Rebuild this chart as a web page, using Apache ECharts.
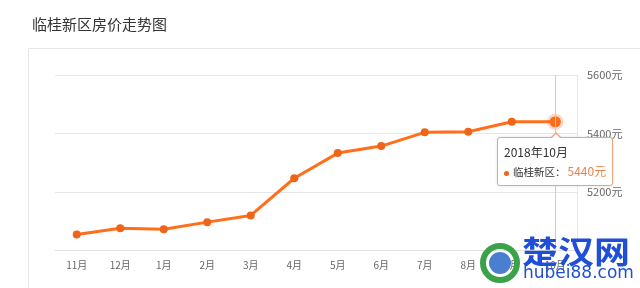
<!DOCTYPE html>
<html><head><meta charset="utf-8">
<script src="https://cdn.jsdelivr.net/npm/echarts@6/dist/echarts.min.js"></script>
<style>html,body{margin:0;padding:0;background:#fff}#c{width:640px;height:288px}</style>
</head><body><div id="c"></div>
<script>
const categories = ['11月','12月','1月','2月','3月','4月','5月','6月','7月','8月','9月','10月'];
const tooltipMonths = ['2017年11月','2017年12月','2018年1月','2018年2月','2018年3月','2018年4月','2018年5月','2018年6月','2018年7月','2018年8月','2018年9月','2018年10月'];
const prices = [5055, 5076, 5073, 5097, 5120, 5247, 5333, 5357, 5404, 5406, 5440, 5440];
const seriesName = '临桂新区';
const titleText = '临桂新区房价走势图';

const font = '"Noto Sans CJK SC", "Microsoft YaHei", sans-serif';
const lineColor = '#ef6418';
const chart = echarts.init(document.getElementById('c'), null, {renderer: 'canvas'});
chart.setOption({
  animation: false,
  backgroundColor: '#fff',
  title: {text: titleText, left: 27, top: 12, textStyle: {fontSize: 15, fontWeight: 'normal', color: '#333', fontFamily: font}},
  graphic: [
    {type: 'rect', shape: {x: 28.5, y: 48.5, width: 700, height: 300}, style: {fill: 'none', stroke: '#e6e6e6', lineWidth: 1}, z: -1},
    {type: 'text', x: 522, y: 236, scaleY: 0.85, style: {text: '楚汉网', fill: '#1f4fd6', font: 'bold 36px "Noto Sans CJK SC"'}, z: 100},
    {type: 'text', x: 523, y: 265, style: {text: 'hubei88.com', fill: '#1f4fd6', font: '17px "DejaVu Sans"'}, z: 100},
    {type: 'circle', shape: {cx: 500, cy: 263, r: 17}, style: {fill: 'none', stroke: '#3aa34a', lineWidth: 6}, z: 100},
    {type: 'circle', shape: {cx: 500, cy: 263, r: 11}, style: {fill: '#4a7fd0'}, z: 100}
  ],
  grid: {left: 55, right: 63, top: 75, bottom: 37.5},
  tooltip: {
    trigger: 'axis',
    alwaysShowContent: true,
    backgroundColor: '#fff',
    borderColor: '#eba57a',
    borderWidth: 1,
    padding: [4, 6],
    textStyle: {color: '#333', fontSize: 10.5, fontFamily: font},
    extraCssText: 'box-shadow:0 0 3px rgba(0,0,0,0.12);border-radius:3px;overflow:visible;white-space:nowrap;',
    position: function () { return [497, 137]; },
    axisPointer: {type: 'line', lineStyle: {color: '#ccc', width: 1, type: 'solid'}},
    formatter: function (p) {
      const d = p[0];
      return '<div style="position:absolute;left:52px;top:-6px;width:0;height:0;border-left:6px solid transparent;border-right:6px solid transparent;border-bottom:6px solid #eba57a"></div>' +
        '<div style="position:absolute;left:53px;top:-4px;width:0;height:0;border-left:5px solid transparent;border-right:5px solid transparent;border-bottom:5px solid #fff"></div>' +
        '<div style="line-height:19px;font-size:12px">' + tooltipMonths[d.dataIndex] + '</div>' +
        '<div style="line-height:19px"><span style="display:inline-block;width:5px;height:5px;border-radius:3px;background:' + lineColor + ';margin-right:4px;vertical-align:middle"></span>' +
        d.seriesName + '：<span style="color:#e8844a;font-size:12px;margin-left:2px">' + d.value + '元</span></div>';
    }
  },
  xAxis: {
    type: 'category', data: categories, boundaryGap: true,
    axisLine: {lineStyle: {color: '#e3e3e3', width: 1}},
    axisTick: {alignWithLabel: true, length: 4, lineStyle: {color: '#e3e3e3'}},
    axisLabel: {color: '#666', fontSize: 10, margin: 10, fontFamily: font}
  },
  yAxis: {
    type: 'value', position: 'right', min: 5000, max: 5600, interval: 200,
    axisLine: {show: true, lineStyle: {color: '#e6e6e6'}},
    axisTick: {show: false},
    axisLabel: {color: '#666', fontSize: 11, margin: 10, showMinLabel: false, formatter: function (v) { return v + '元'; }, fontFamily: font},
    splitLine: {lineStyle: {color: '#e6e6e6', width: 1}}
  },
  series: [{
    name: seriesName, type: 'line', data: prices,
    symbol: 'circle', symbolSize: 8, showAllSymbol: true,
    lineStyle: {color: lineColor, width: 3},
    itemStyle: {color: lineColor},
    emphasis: {scale: 1.4, itemStyle: {borderColor: 'rgba(239,100,24,0.25)', borderWidth: 5}}
  }]
});
chart.dispatchAction({type: 'showTip', seriesIndex: 0, dataIndex: 11});
</script></body></html>
